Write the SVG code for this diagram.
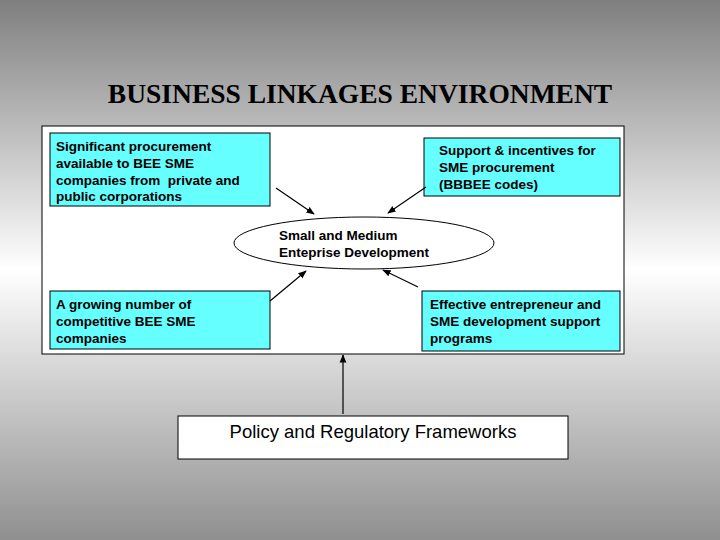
<svg xmlns="http://www.w3.org/2000/svg" width="720" height="540" viewBox="0 0 720 540">
<defs>
<linearGradient id="bg" x1="0" y1="0" x2="0" y2="1">
<stop offset="0" stop-color="#7f7f7f"/>
<stop offset="0.5" stop-color="#ffffff"/>
<stop offset="1" stop-color="#8f8f8f"/>
</linearGradient>
<marker id="ah" viewBox="0 0 10 10" refX="9" refY="5" markerWidth="7" markerHeight="7" orient="auto"><path d="M0,1 L10,5 L0,9 z" fill="#000"/></marker>
<style>
.box{fill:#66ffff;stroke:#000;stroke-width:1}
.t{font-family:"Liberation Sans",Arial,sans-serif;font-size:13.5px;font-weight:bold;fill:#000;white-space:pre}
.c{stroke:#000;stroke-width:1.2;fill:none;marker-end:url(#ah)}
</style>
</defs>
<rect width="720" height="540" fill="url(#bg)"/>
<text x="360" y="103" text-anchor="middle" font-family="'Liberation Serif','Times New Roman',serif" font-size="27.5" font-weight="bold">BUSINESS LINKAGES ENVIRONMENT</text>
<rect x="42" y="126" width="582" height="228" fill="#fff" stroke="#000"/>
<g id="n1"><rect class="box" x="50" y="133" width="220" height="73"/>
<text class="t" x="56" y="151">Significant procurement</text><text class="t" x="56" y="168">available to BEE SME</text><text class="t" x="56" y="185">companies from  private and</text><text class="t" x="56" y="201">public corporations</text></g>
<g id="n2"><rect class="box" x="424" y="138" width="196" height="58"/>
<text class="t" x="439" y="155">Support &amp; incentives for</text><text class="t" x="439" y="172">SME procurement</text><text class="t" x="439" y="189">(BBBEE codes)</text></g>
<g id="n3"><ellipse cx="364" cy="243" rx="130" ry="26" fill="#fff" stroke="#000"/>
<text class="t" x="279" y="240">Small and Medium</text><text class="t" x="279" y="257">Enteprise Development</text></g>
<g id="n4"><rect class="box" x="50" y="291" width="220" height="58"/>
<text class="t" x="56" y="309">A growing number of</text><text class="t" x="56" y="326">competitive BEE SME</text><text class="t" x="56" y="343">companies</text></g>
<g id="n5"><rect class="box" x="422" y="291" width="198" height="60"/>
<text class="t" x="430" y="309">Effective entrepreneur and</text><text class="t" x="430" y="326">SME development support</text><text class="t" x="430" y="343">programs</text></g>
<g id="n6"><rect x="178" y="416" width="390" height="43" fill="#fff" stroke="#000"/>
<text x="373" y="438" text-anchor="middle" font-family="'Liberation Sans',Arial,sans-serif" font-size="18.5">Policy and Regulatory Frameworks</text></g>
<g id="connectors">
<line class="c" x1="276" y1="188" x2="314" y2="214"/>
<line class="c" x1="426" y1="187" x2="388" y2="213"/>
<line class="c" x1="270" y1="301" x2="306" y2="271"/>
<line class="c" x1="418" y1="287" x2="383" y2="270"/>
<line class="c" x1="343" y1="414" x2="343" y2="355"/>
</g>
</svg>
